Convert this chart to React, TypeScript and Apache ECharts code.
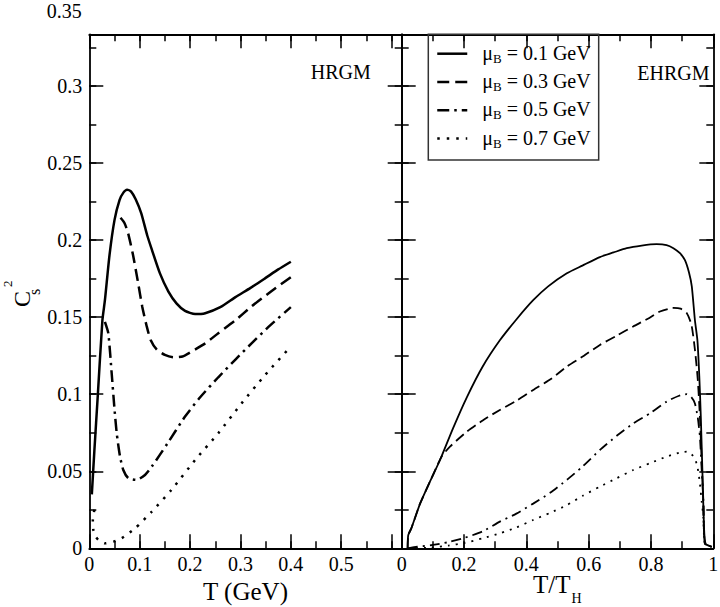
import React, { useEffect, useRef } from "react";
import * as echarts from "echarts";

// ---------- data ----------
const MU_B = ["0.1", "0.3", "0.5", "0.7"];

// HRGM panel: x = T (GeV), y = c_s^2
const HRGM_T_01 = [0.005, 0.01, 0.017, 0.026, 0.031, 0.04, 0.05, 0.06, 0.068, 0.075, 0.083, 0.092, 0.103, 0.115, 0.124, 0.14, 0.157, 0.173, 0.19, 0.21, 0.23, 0.26, 0.29, 0.32, 0.35, 0.375, 0.4];
const HRGM_C_01 = [0.035, 0.063, 0.1, 0.148, 0.161, 0.19, 0.213, 0.226, 0.231, 0.2327, 0.2315, 0.2265, 0.2175, 0.203, 0.194, 0.1786, 0.1666, 0.159, 0.1541, 0.152, 0.1526, 0.1565, 0.163, 0.169, 0.1755, 0.181, 0.186];

const HRGM_T_03 = [0.062, 0.07, 0.077, 0.087, 0.097, 0.105, 0.114, 0.122, 0.134, 0.15, 0.167, 0.185, 0.203, 0.23, 0.256, 0.29, 0.322, 0.36, 0.4];
const HRGM_C_03 = [0.2145, 0.211, 0.2045, 0.19, 0.172, 0.157, 0.144, 0.135, 0.129, 0.1255, 0.124, 0.1245, 0.1277, 0.133, 0.1396, 0.148, 0.157, 0.1665, 0.176];

const HRGM_T_05 = [0.031, 0.0377, 0.0444, 0.0496, 0.0544, 0.061, 0.0675, 0.0774, 0.094, 0.1105, 0.124, 0.155, 0.19, 0.22, 0.256, 0.29, 0.322, 0.36, 0.4];
const HRGM_C_05 = [0.147, 0.1396, 0.1136, 0.092, 0.0747, 0.0595, 0.0508, 0.0455, 0.0444, 0.0476, 0.053, 0.068, 0.0855, 0.098, 0.111, 0.1225, 0.133, 0.145, 0.1565];

const HRGM_T_07 = [0.01, 0.007, 0.008, 0.012, 0.018, 0.031, 0.048, 0.064, 0.091, 0.124, 0.163, 0.21, 0.256, 0.302, 0.349, 0.4];
const HRGM_C_07 = [0.025, 0.018, 0.012, 0.008, 0.0055, 0.0032, 0.0043, 0.0065, 0.013, 0.0238, 0.0379, 0.0573, 0.0747, 0.094, 0.1125, 0.131];

// EHRGM panel: x = T/T_H, y = c_s^2
const EHRGM_T_01 = [0.019, 0.021, 0.031, 0.059, 0.09, 0.123, 0.165, 0.209, 0.26, 0.315, 0.37, 0.422, 0.47, 0.53, 0.58, 0.636, 0.68, 0.722, 0.77, 0.818, 0.85, 0.872, 0.893, 0.909, 0.922, 0.931, 0.941, 0.949, 0.955, 0.96, 0.965, 0.97, 0.975, 0.995];
const EHRGM_C_01 = [0.0, 0.0085, 0.013, 0.029, 0.043, 0.0573, 0.078, 0.098, 0.118, 0.135, 0.149, 0.161, 0.17, 0.1785, 0.1835, 0.189, 0.192, 0.1948, 0.1965, 0.1974, 0.1968, 0.1948, 0.1915, 0.187, 0.179, 0.17, 0.148, 0.135, 0.112, 0.085, 0.05, 0.015, 0.003, 0.001];

const EHRGM_T_03 = [0.019, 0.021, 0.031, 0.059, 0.09, 0.128, 0.155, 0.209, 0.26, 0.315, 0.37, 0.422, 0.48, 0.53, 0.585, 0.636, 0.69, 0.743, 0.79, 0.829, 0.872, 0.895, 0.915, 0.93, 0.941, 0.95, 0.957, 0.963, 0.968, 0.973, 0.995];
const EHRGM_C_03 = [0.0, 0.0085, 0.013, 0.029, 0.043, 0.0595, 0.066, 0.0757, 0.083, 0.0898, 0.096, 0.1028, 0.11, 0.118, 0.125, 0.132, 0.138, 0.144, 0.149, 0.1537, 0.156, 0.1555, 0.1526, 0.145, 0.129, 0.11, 0.0855, 0.055, 0.031, 0.003, 0.001];

const EHRGM_T_05 = [0.02, 0.05, 0.095, 0.15, 0.202, 0.26, 0.315, 0.368, 0.422, 0.476, 0.53, 0.58, 0.636, 0.69, 0.743, 0.8, 0.85, 0.89, 0.915, 0.93, 0.941, 0.95, 0.957, 0.963, 0.968, 0.973, 0.995];
const EHRGM_C_05 = [0.0, 0.001, 0.002, 0.004, 0.0068, 0.011, 0.0173, 0.0225, 0.029, 0.036, 0.0444, 0.053, 0.0638, 0.073, 0.081, 0.088, 0.0952, 0.099, 0.1, 0.098, 0.094, 0.085, 0.0725, 0.05, 0.031, 0.003, 0.001];

const EHRGM_T_07 = [0.02, 0.095, 0.15, 0.202, 0.26, 0.315, 0.368, 0.422, 0.476, 0.53, 0.58, 0.636, 0.69, 0.743, 0.8, 0.85, 0.89, 0.915, 0.93, 0.941, 0.95, 0.957, 0.963, 0.968, 0.973, 0.995];
const EHRGM_C_07 = [0.0, 0.0005, 0.0018, 0.0035, 0.0065, 0.0097, 0.0135, 0.0184, 0.023, 0.028, 0.034, 0.04, 0.0455, 0.0508, 0.0555, 0.0595, 0.062, 0.0627, 0.061, 0.0584, 0.052, 0.042, 0.03, 0.02, 0.003, 0.001];

const X_TICKS_LEFT = [0, 0.1, 0.2, 0.3, 0.4, 0.5];
const Y_TICK_TOP_LABEL = 0.35;

// ---------- styling ----------
const FONT = "'Liberation Serif', 'Times New Roman', serif";
const BLACK = "#000";
const Y_MAX = 0.3336;
const X_MAX_LEFT = 0.62;
const X_MAX_RIGHT = 1;

const GRID_TOP = 34.3;
const GRID_H = 514;
const L_LEFT = 89.3;
const L_W = 312.4;
const R_LEFT = 401.7;
const R_W = 311.6;

const FRAME = { color: BLACK, width: 1.8 };
const TICK = { color: BLACK, width: 1.5 };
const MAJOR_LEN = 14;
const MINOR_LEN = 7;
const TICK_FONT = 20;
const TITLE_FONT = 25;

const zip = (xs: number[], ys: number[]) => xs.map((x, i) => [x, ys[i]]);

function baseAxis(gridIndex: number, position: string, max: number, interval: number, len: number, main: boolean) {
  return {
    type: "value",
    gridIndex,
    position,
    min: 0,
    max,
    interval,
    axisLine: { show: main, onZero: false, lineStyle: FRAME },
    axisTick: { show: true, inside: true, length: len, lineStyle: TICK },
    minorTick: { show: false },
    splitLine: { show: false },
    axisLabel: { show: false },
  } as any;
}

function fmtNum(v: number) {
  return String(Math.round(v * 1000) / 1000);
}

export default function App() {
  const ref = useRef<HTMLDivElement>(null);

  useEffect(() => {
    if (!ref.current) return;
    const chart = echarts.init(ref.current, null, { renderer: "svg" });

    const labelStyle = { show: true, color: BLACK, fontFamily: FONT, fontSize: TICK_FONT };

    const xLB = baseAxis(0, "bottom", X_MAX_LEFT, 0.1, MAJOR_LEN, true);
    xLB.axisLabel = {
      ...labelStyle,
      margin: 6,
      showMaxLabel: false,
      formatter: (v: number) => (X_TICKS_LEFT.some((t) => Math.abs(t - v) < 1e-6) ? fmtNum(v) : ""),
    };
    xLB.name = "T (GeV)";
    xLB.nameLocation = "middle";
    xLB.nameGap = 27;
    xLB.nameTextStyle = { color: BLACK, fontFamily: FONT, fontSize: TITLE_FONT };

    const xRB = baseAxis(1, "bottom", X_MAX_RIGHT, 0.2, MAJOR_LEN, true);
    xRB.axisLabel = { ...labelStyle, margin: 6, formatter: (v: number) => fmtNum(v) };

    const xAxis = [
      xLB, // 0
      baseAxis(0, "bottom", X_MAX_LEFT, 0.05, MINOR_LEN, false),
      baseAxis(0, "top", X_MAX_LEFT, 0.1, MAJOR_LEN, true),
      baseAxis(0, "top", X_MAX_LEFT, 0.05, MINOR_LEN, false),
      xRB, // 4
      baseAxis(1, "bottom", X_MAX_RIGHT, 0.1, MINOR_LEN, false),
      baseAxis(1, "top", X_MAX_RIGHT, 0.2, MAJOR_LEN, true),
      baseAxis(1, "top", X_MAX_RIGHT, 0.1, MINOR_LEN, false),
    ];

    const yLL = baseAxis(0, "left", Y_MAX, 0.05, MAJOR_LEN, true);
    yLL.axisLabel = {
      ...labelStyle,
      margin: 7,
      showMaxLabel: false,
      formatter: (v: number) => (v > 0.31 ? "" : fmtNum(v)),
    };

    const yAxis = [
      yLL, // 0
      baseAxis(0, "left", Y_MAX, 0.025, MINOR_LEN, false),
      baseAxis(0, "right", Y_MAX, 0.05, MAJOR_LEN, true),
      baseAxis(0, "right", Y_MAX, 0.025, MINOR_LEN, false),
      baseAxis(1, "left", Y_MAX, 0.05, MAJOR_LEN, true), // 4
      baseAxis(1, "left", Y_MAX, 0.025, MINOR_LEN, false),
      baseAxis(1, "right", Y_MAX, 0.05, MAJOR_LEN, true),
      baseAxis(1, "right", Y_MAX, 0.025, MINOR_LEN, false),
    ];

    const leftDash: any[] = ["solid", [12, 6], [12, 5, 2.5, 5], [2.5, 7]];
    const rightDash: any[] = ["solid", [10, 5], [10, 5, 2, 5], [2, 6]];
    const leftData = [
      zip(HRGM_T_01, HRGM_C_01),
      zip(HRGM_T_03, HRGM_C_03),
      zip(HRGM_T_05, HRGM_C_05),
      zip(HRGM_T_07, HRGM_C_07),
    ];
    const rightData = [
      zip(EHRGM_T_01, EHRGM_C_01),
      zip(EHRGM_T_03, EHRGM_C_03),
      zip(EHRGM_T_05, EHRGM_C_05),
      zip(EHRGM_T_07, EHRGM_C_07),
    ];

    const series: any[] = [];
    MU_B.forEach((mu, i) => {
      series.push({
        type: "line",
        name: mu,
        xAxisIndex: 0,
        yAxisIndex: 0,
        data: leftData[i],
        symbol: "none",
        smooth: 0.2,
        color: BLACK,
        lineStyle: { color: BLACK, width: 2.5, type: leftDash[i], cap: "butt" },
      });
    });
    MU_B.forEach((mu, i) => {
      series.push({
        type: "line",
        name: mu,
        xAxisIndex: 4,
        yAxisIndex: 4,
        data: rightData[i],
        symbol: "none",
        smooth: 0.2,
        color: BLACK,
        lineStyle: { color: BLACK, width: 1.8, type: rightDash[i], cap: "butt" },
      });
    });

    const option: any = {
      animation: false,
      grid: [
        { left: L_LEFT, top: GRID_TOP, width: L_W, height: GRID_H, outerBoundsMode: "none", containLabel: false },
        { left: R_LEFT, top: GRID_TOP, width: R_W, height: GRID_H, outerBoundsMode: "none", containLabel: false },
      ],
      xAxis,
      yAxis,
      legend: {
        data: MU_B,
        orient: "vertical",
        left: 428.3,
        top: GRID_TOP,
        padding: [4.4, 8, 10.3, 7.7],
        itemWidth: 30,
        itemHeight: 14,
        itemGap: 2.3,
        borderColor: "#333",
        borderWidth: 1.5,
        selectedMode: false,
        itemStyle: { color: "rgba(0,0,0,0)", borderWidth: 0, opacity: 0 },
        lineStyle: { width: 2.5 },
        formatter: (name: string) => `{m|\u03bc}{b|B}{t| = ${name} GeV}`,
        textStyle: {
          color: BLACK,
          fontFamily: FONT,
          fontSize: 20,
          rich: {
            m: { fontFamily: FONT, fontSize: 20, lineHeight: 22, verticalAlign: "top", color: BLACK, padding: [0, 0, 0, 10] },
            b: { fontFamily: FONT, fontSize: 13, lineHeight: 13, verticalAlign: "bottom", padding: [13, 0, 0, 0], color: BLACK },
            t: { fontFamily: FONT, fontSize: 20, lineHeight: 22, verticalAlign: "top", color: BLACK },
          },
        },
      },
      series,
    };

    chart.setOption(option);

    const yTop = chart.convertToPixel({ yAxisIndex: 0 } as any, Y_TICK_TOP_LABEL) as number;

    const txt = (text: string, size: number, align: string, vAlign: string) => ({
      text,
      fontFamily: FONT,
      fontSize: size,
      fill: BLACK,
      textAlign: align,
      align,
      textVerticalAlign: vAlign,
      verticalAlign: vAlign,
    });

    chart.setOption({
      graphic: [
        { type: "text", x: L_LEFT - 7.5, y: Math.max(yTop, 11), style: txt("0.35", TICK_FONT, "right", "middle"), silent: true },
        { type: "text", x: 370.7, y: 72, style: txt("HRGM", 20, "right", "middle"), silent: true },
        { type: "text", x: 709.5, y: 72.5, style: txt("EHRGM", 20, "right", "middle"), silent: true },
        // x title of right panel: T/T_H
        { type: "text", x: 533, y: 584.8, style: txt("T/T", TITLE_FONT, "left", "middle"), silent: true },
        { type: "text", x: 571.5, y: 598.3, style: txt("H", 14, "left", "middle"), silent: true },
        // y title: C_s^2 (rotated)
        {
          type: "group",
          x: 30,
          y: 307,
          rotation: Math.PI / 2,
          silent: true,
          children: [
            { type: "text", x: 0, y: -8, style: txt("C", 24, "left", "middle") },
            { type: "text", x: 12, y: 4, style: txt("s", 16, "left", "middle") },
            { type: "text", x: 20, y: -22.4, style: txt("2", 13, "left", "middle") },
          ],
        },
      ],
    });

    return () => chart.dispose();
  }, []);

  return (
    <div
      ref={ref}
      style={{ position: "absolute", left: 0, top: 0, width: 720, height: 607, background: "#fff" }}
    />
  );
}
